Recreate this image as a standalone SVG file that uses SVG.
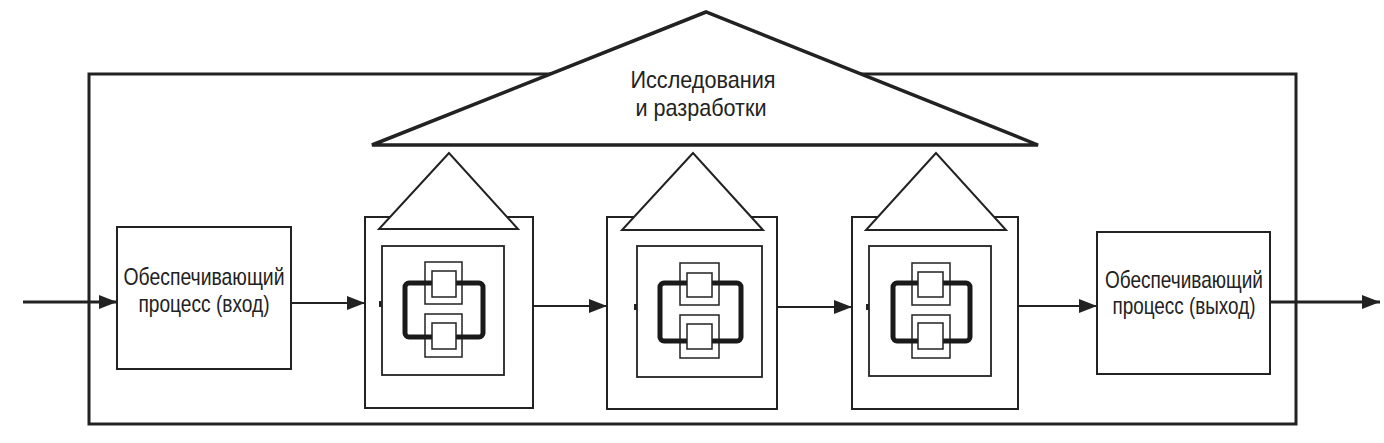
<svg xmlns="http://www.w3.org/2000/svg" width="1384" height="443" viewBox="0 0 1384 443">
<style>
  .frame{fill:none;stroke:#222;stroke-width:3}
  .big{fill:#fff;stroke:#222;stroke-width:3.5;stroke-linejoin:miter}
  .box{fill:#fff;stroke:#222;stroke-width:2}
  .tri{fill:#fff;stroke:#222;stroke-width:2}
  .inner{fill:#fff;stroke:#222;stroke-width:1.8}
  .thin{fill:#fff;stroke:#222;stroke-width:1.5}
  .bracket{fill:none;stroke:#1a1a1a;stroke-width:5}
  .tick{fill:#222}
  .lbl{font-family:"Liberation Sans",Arial,sans-serif;font-size:24px;fill:#222;text-anchor:middle}
  .conn{stroke:#222;fill:none}
</style>
<defs>
  <marker id="ah" markerUnits="userSpaceOnUse" markerWidth="20" markerHeight="16" refX="18" refY="7" orient="auto">
    <path d="M0,0 L18,7 L0,14 z" fill="#222"/>
  </marker>
</defs>
<rect width="1384" height="443" fill="#fff"/>

<g id="frame">
  <rect class="frame" x="89" y="74" width="1207" height="350"/>
</g>

<g id="rnd">
  <polygon class="big" points="706,12 372,145 1038,145"/>
  <text class="lbl" x="703" y="88" textLength="145" lengthAdjust="spacingAndGlyphs">Исследования</text>
  <text class="lbl" x="701" y="116" textLength="131" lengthAdjust="spacingAndGlyphs">и разработки</text>
</g>

<g id="connectors">
  <line class="conn" x1="23" y1="302" x2="117" y2="302" stroke-width="3" marker-end="url(#ah)"/>
  <line class="conn" x1="291" y1="303" x2="365" y2="303" stroke-width="2" marker-end="url(#ah)"/>
  <line class="conn" x1="533" y1="306" x2="607" y2="306" stroke-width="2" marker-end="url(#ah)"/>
  <line class="conn" x1="777" y1="307" x2="852" y2="307" stroke-width="2" marker-end="url(#ah)"/>
  <line class="conn" x1="1018" y1="306" x2="1097" y2="306" stroke-width="2" marker-end="url(#ah)"/>
  <line class="conn" x1="1270" y1="302" x2="1380" y2="302" stroke-width="3" marker-end="url(#ah)"/>
</g>

<g id="input">
  <rect class="box" x="117" y="227" width="174" height="142"/>
  <text class="lbl" x="204" y="285" textLength="161" lengthAdjust="spacingAndGlyphs">Обеспечивающий</text>
  <text class="lbl" x="204" y="312" textLength="131" lengthAdjust="spacingAndGlyphs">процесс (вход)</text>
</g>

<g id="output">
  <rect class="box" x="1097" y="232" width="173" height="142"/>
  <text class="lbl" x="1184" y="288" textLength="158" lengthAdjust="spacingAndGlyphs">Обеспечивающий</text>
  <text class="lbl" x="1184" y="314" textLength="143" lengthAdjust="spacingAndGlyphs">процесс (выход)</text>
</g>

<g id="module1">
  <rect class="box" x="365" y="217" width="168" height="191"/>
  <polygon class="tri" points="449,153 379,229 518,229"/>
  <rect class="inner" x="382" y="246" width="122" height="129"/>
  <rect class="thin" x="425" y="262" width="37" height="42"/>
  <rect class="thin" x="425" y="314" width="37" height="43"/>
  <rect class="bracket" x="405" y="283" width="78" height="54" rx="4"/>
  <rect class="thin" x="432" y="271" width="24" height="26"/>
  <rect class="thin" x="432" y="323" width="24" height="26"/>
  <rect class="tick" x="379" y="301" width="3" height="6"/>
</g>

<g id="module2">
  <rect class="box" x="607" y="217" width="170" height="192"/>
  <polygon class="tri" points="693,153 622,230 763,230"/>
  <rect class="inner" x="637" y="246" width="125" height="131"/>
  <rect class="thin" x="680" y="263" width="39" height="42"/>
  <rect class="thin" x="680" y="315" width="39" height="43"/>
  <rect class="bracket" x="660" y="283" width="81" height="58" rx="4"/>
  <rect class="thin" x="687" y="273" width="25" height="24"/>
  <rect class="thin" x="687" y="324" width="25" height="25"/>
  <rect class="tick" x="634" y="304" width="3" height="6"/>
</g>

<g id="module3">
  <rect class="box" x="852" y="217" width="166" height="192"/>
  <polygon class="tri" points="936,153 866,230 1006,230"/>
  <rect class="inner" x="869" y="246" width="122" height="130"/>
  <rect class="thin" x="912" y="263" width="38" height="42"/>
  <rect class="thin" x="912" y="315" width="38" height="43"/>
  <rect class="bracket" x="893" y="283" width="77" height="58" rx="4"/>
  <rect class="thin" x="918" y="272" width="25" height="25"/>
  <rect class="thin" x="918" y="323" width="25" height="26"/>
  <rect class="tick" x="866" y="304" width="3" height="6"/>
</g>
</svg>
